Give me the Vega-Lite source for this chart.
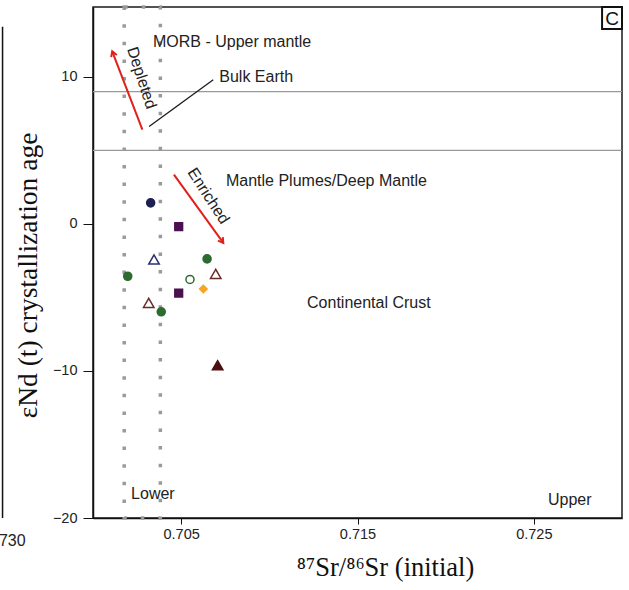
{
  "$schema": "https://vega.github.io/schema/vega-lite/v6.json",
  "width": 529,
  "height": 511,
  "autosize": {"type": "none"},
  "padding": {"left": 93, "top": 7, "right": 7, "bottom": 72},
  "background": "white",
  "config": {"view": {"stroke": "#1a1a1a", "strokeWidth": 1.5}, "font": "Liberation Sans"},
  "datasets": {
    "points": [
      {"x": 0.70327, "y": 1.43, "series": "A"},
      {"x": 0.70486, "y": -0.18, "series": "B"},
      {"x": 0.70346, "y": -2.42, "series": "C"},
      {"x": 0.70197, "y": -3.56, "series": "D"},
      {"x": 0.70647, "y": -2.38, "series": "D"},
      {"x": 0.70696, "y": -3.40, "series": "E"},
      {"x": 0.70550, "y": -3.78, "series": "F"},
      {"x": 0.70626, "y": -4.42, "series": "G"},
      {"x": 0.70486, "y": -4.71, "series": "B"},
      {"x": 0.70316, "y": -5.37, "series": "E"},
      {"x": 0.70387, "y": -5.98, "series": "D"},
      {"x": 0.70707, "y": -9.61, "series": "H"}
    ],
    "hlines": [
      {"x": 0.700, "x2": 0.730, "y": 9, "y2": 9},
      {"x": 0.700, "x2": 0.730, "y": 5, "y2": 5}
    ],
    "dotbox": [
      {"x": 0.70177, "x2": 0.70382, "y": -20, "y2": 14.75}
    ],
    "arrows": [
      {"name": "Depleted", "x": 0.70280, "y": 6.41, "x2": 0.70109, "y2": 11.73},
      {"name": "Enriched", "x": 0.70459, "y": 3.35, "x2": 0.70739, "y2": -1.29}
    ],
    "bulk": [
      {"x": 0.70318, "y": 6.63, "x2": 0.70682, "y2": 9.80}
    ],
    "labels": [
      {"x": 0.70340, "y": 12.40, "label": "MORB - Upper mantle"},
      {"x": 0.70716, "y": 9.99, "label": "Bulk Earth"},
      {"x": 0.70754, "y": 2.89, "label": "Mantle Plumes/Deep Mantle"},
      {"x": 0.71214, "y": -5.41, "label": "Continental Crust"},
      {"x": 0.70216, "y": -18.39, "label": "Lower"},
      {"x": 0.72580, "y": -18.75, "label": "Upper"}
    ],
    "depletedText": [{"x": 0.70276, "y": 9.92, "label": "Depleted"}],
    "enrichedText": [{"x": 0.70654, "y": 1.89, "label": "Enriched"}],
    "cbox": [{"x": 0.72887, "x2": 0.73, "y": 13.25, "y2": 14.75}],
    "ctext": [{"x": 0.72944, "y": 14.0, "label": "C"}],
    "sidepanel": [{"x": 0.69487, "x2": 0.69487, "y": -20, "y2": 13.4}],
    "sidelabel": [{"x": 0.69618, "y": -21.58, "label": "0.730"}]
  },
  "encoding": {
    "x": {
      "field": "x", "type": "quantitative",
      "scale": {"domain": [0.700, 0.730], "nice": false, "zero": false},
      "axis": {
        "values": [0.705, 0.715, 0.725], "format": ".3f", "grid": false,
        "title": "⁸⁷Sr/⁸⁶Sr (initial)", "titleFont": "Liberation Serif", "titleFontSize": 26.5,
        "titleFontWeight": "normal", "titleColor": "#111", "titleX": 292, "titleY": 57,
        "titleBaseline": "alphabetic", "titleAlign": "center",
        "labelFont": "Liberation Sans", "labelFontSize": 14.5, "labelColor": "#222", "labelPadding": 3,
        "tickSize": 6, "tickColor": "#111", "domainColor": "#111", "domainWidth": 1.5
      }
    },
    "y": {
      "field": "y", "type": "quantitative",
      "scale": {"domain": [-20, 14.75], "nice": false, "zero": false},
      "axis": {
        "values": [-20, -10, 0, 10], "grid": false,
        "title": "εNd (t) crystallization age", "titleFont": "Liberation Serif", "titleFontSize": 27.5,
        "titleFontWeight": "normal", "titleColor": "#111", "titlePadding": 10, "titleY": 268,
        "labelFont": "Liberation Sans", "labelFontSize": 14.5, "labelColor": "#222", "labelPadding": 6,
        "tickSize": 10, "tickColor": "#111", "domainColor": "#111", "domainWidth": 1.5
      }
    }
  },
  "layer": [
    {
      "data": {"name": "hlines"},
      "mark": {"type": "rule", "stroke": "#999999", "strokeWidth": 1.3},
      "encoding": {"x2": {"field": "x2"}, "y2": {"field": "y2"}}
    },
    {
      "data": {"name": "dotbox"},
      "mark": {"type": "rect", "fillOpacity": 0, "stroke": "#9a9a9a", "strokeWidth": 3.5, "strokeDash": [3.5, 14.1]},
      "encoding": {"x2": {"field": "x2"}, "y2": {"field": "y2"}}
    },
    {
      "data": {"name": "bulk"},
      "mark": {"type": "rule", "stroke": "#1a1a1a", "strokeWidth": 1.3},
      "encoding": {"x2": {"field": "x2"}, "y2": {"field": "y2"}}
    },
    {
      "data": {"name": "arrows"},
      "mark": {"type": "rule", "stroke": "#e0201b", "strokeWidth": 2},
      "encoding": {"x2": {"field": "x2"}, "y2": {"field": "y2"}}
    },
    {
      "data": {"name": "arrows"},
      "transform": [{"filter": "datum.name == 'Depleted'"}],
      "mark": {"type": "point", "shape": "M-0.6,1L0,0L0.6,1", "filled": false, "stroke": "#e0201b", "strokeWidth": 2, "size": 100, "angle": 339, "opacity": 1},
      "encoding": {"x": {"field": "x2", "type": "quantitative"}, "y": {"field": "y2", "type": "quantitative"}}
    },
    {
      "data": {"name": "arrows"},
      "transform": [{"filter": "datum.name == 'Enriched'"}],
      "mark": {"type": "point", "shape": "M-0.6,1L0,0L0.6,1", "filled": false, "stroke": "#e0201b", "strokeWidth": 2, "size": 100, "angle": 144, "opacity": 1},
      "encoding": {"x": {"field": "x2", "type": "quantitative"}, "y": {"field": "y2", "type": "quantitative"}}
    },
    {
      "data": {"name": "points"},
      "mark": {"type": "point", "filled": true, "strokeWidth": 1.5, "opacity": 1},
      "encoding": {
        "shape": {"field": "series", "type": "nominal", "legend": null,
          "scale": {"domain": ["A", "B", "C", "D", "E", "F", "G", "H"],
            "range": ["circle", "square", "triangle-up", "circle", "triangle-up", "circle", "diamond", "triangle-up"]}},
        "fill": {"field": "series", "type": "nominal", "legend": null,
          "scale": {"domain": ["A", "B", "C", "D", "E", "F", "G", "H"],
            "range": ["#1c2152", "#4b1050", "#ffffff", "#2e6b30", "#ffffff", "#ffffff", "#f6a623", "#4d0f0f"]}},
        "stroke": {"field": "series", "type": "nominal", "legend": null,
          "scale": {"domain": ["A", "B", "C", "D", "E", "F", "G", "H"],
            "range": ["#1c2152", "#4b1050", "#2d2f72", "#2e6b30", "#6b2b2b", "#2e6b30", "#f6a623", "#4d0f0f"]}},
        "size": {"field": "series", "type": "nominal", "legend": null,
          "scale": {"type": "ordinal", "domain": ["A", "B", "C", "D", "E", "F", "G", "H"],
            "range": [65, 60, 110, 65, 110, 65, 55, 110]}}
      }
    },
    {
      "data": {"name": "labels"},
      "mark": {"type": "text", "align": "left", "baseline": "middle", "fontSize": 16, "font": "Liberation Sans", "fill": "#222"},
      "encoding": {"text": {"field": "label"}}
    },
    {
      "data": {"name": "depletedText"},
      "mark": {"type": "text", "align": "center", "baseline": "middle", "fontSize": 16, "font": "Liberation Sans", "fill": "#222", "angle": 72},
      "encoding": {"text": {"field": "label"}}
    },
    {
      "data": {"name": "enrichedText"},
      "mark": {"type": "text", "align": "center", "baseline": "middle", "fontSize": 16, "font": "Liberation Sans", "fill": "#222", "angle": 57},
      "encoding": {"text": {"field": "label"}}
    },
    {
      "data": {"name": "cbox"},
      "mark": {"type": "rect", "fill": "white", "stroke": "#111", "strokeWidth": 2},
      "encoding": {"x2": {"field": "x2"}, "y2": {"field": "y2"}}
    },
    {
      "data": {"name": "ctext"},
      "mark": {"type": "text", "align": "center", "baseline": "middle", "fontSize": 19, "font": "Liberation Sans", "fill": "#111", "dy": 1},
      "encoding": {"text": {"field": "label"}}
    },
    {
      "data": {"name": "sidepanel"},
      "mark": {"type": "rule", "stroke": "#111", "strokeWidth": 1.5},
      "encoding": {"x2": {"field": "x2"}, "y2": {"field": "y2"}}
    },
    {
      "data": {"name": "sidelabel"},
      "mark": {"type": "text", "align": "right", "baseline": "middle", "fontSize": 16, "font": "Liberation Sans", "fill": "#222"},
      "encoding": {"text": {"field": "label"}}
    }
  ]
}
